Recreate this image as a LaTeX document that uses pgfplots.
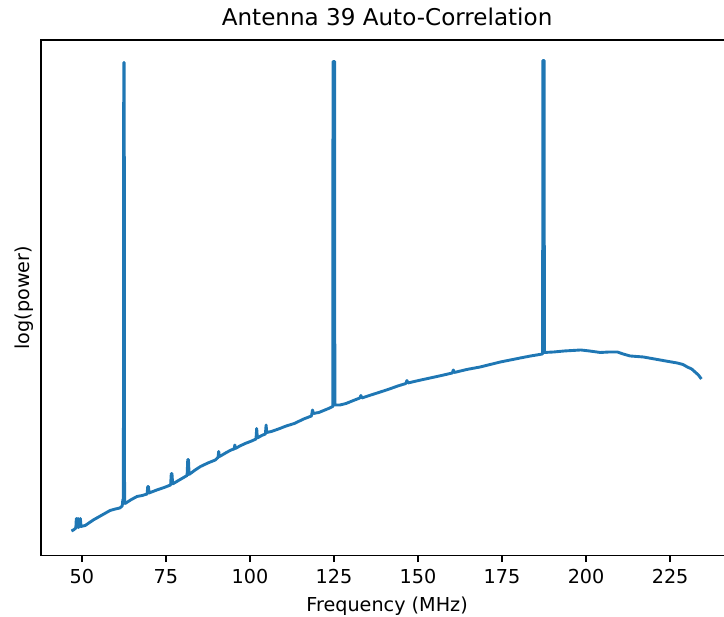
\documentclass[border=0pt]{standalone}
\usepackage{fontspec}
\setmainfont{DejaVu Sans}
\usepackage{pgfplots}
\pgfplotsset{compat=1.18}
\definecolor{mplblue}{HTML}{1F77B4}
\begin{document}
\begin{tikzpicture}
\begin{axis}[
  at={(0,0)}, anchor=south west,
  scale only axis, width=518.85pt, height=386.6pt,
  xmin=37.9, xmax=243.7, ymin=0, ymax=515.5,
  xtick={50,75,100,125,150,175,200,225}, ytick=\empty,
  tick align=outside, xtick pos=left,
  major tick length=5.06pt,
  every tick/.style={black, line width=1.16pt},
  axis line style={line width=1.16pt},
  /pgf/number format/assume math mode=true,
  ticklabel style={font=\fontsize{14.4}{17}\selectfont},
  xticklabel style={anchor=base, yshift=-16pt},
  title={Antenna 39 Auto-Correlation},
  title style={at={(axis description cs:0.5,1.0125)}, anchor=base, font=\fontsize{17.3}{20}\selectfont},
  xlabel={Frequency (MHz)},
  xlabel style={at={(axis description cs:0.5,-0.108)}, anchor=base, font=\fontsize{14.4}{17}\selectfont},
  ylabel={log(power)},
  ylabel style={at={(axis description cs:-0.0175,0.5)}, anchor=base, rotate=0, font=\fontsize{14.4}{17}\selectfont},
]
\addplot[mplblue, line width=2.17pt, line join=round] coordinates {
(46.9,24.5) (47.5,25.5) (48.2,27.5) (48.35,37) (48.55,28) (48.85,37) (49.05,28) (49.55,37) (49.75,29)
(51.0,30) (53.4,35.5) (55.5,39.5) (58.4,45) (60.0,46.5) (61.3,47.5) (62.0,49.5) (62.2,56) (62.35,55)
(62.45,493) (62.6,493) (62.7,55) (62.9,52) (64.5,55.5) (66.4,59) (68.0,60) (69.4,61.5) (69.6,69) (69.8,69) (70.0,62.5)
(72.3,65.5) (74.5,68) (76.4,70.5) (76.6,82) (76.8,82) (77.0,71.5) (79.0,75.5) (81.3,80) (81.5,96) (81.7,96) (81.9,81)
(83.5,85) (85.3,89) (87.5,92.5) (89.7,95.5) (90.5,98) (90.7,104) (90.9,99) (91.5,100) (93.0,103) (94.4,105.5)
(95.3,106.5) (95.5,110.5) (95.7,107) (97.0,109.5) (98.6,112) (100.5,114.5) (101.8,116.5) (102.0,127) (102.2,117.5)
(103.5,120) (104.6,121.5) (104.8,130.5) (105.0,123) (106.4,124) (108.5,126.5) (110.8,129.5) (113.2,132) (116.0,136.5)
(118.3,139.5) (118.6,145.5) (118.9,142) (120.5,143) (123.4,147) (124.65,149) (124.7,494) (125.2,494) (125.25,150.5)
(126.8,150.5) (128.6,152) (130.8,155) (132.7,157.5) (133.0,160) (133.3,157.5) (136.0,160.5) (138.8,163.5)
(141.5,166.5) (144.0,169.5) (146.4,172) (146.7,175) (147.0,172.5) (150.2,175) (153.6,177.5) (157.0,180)
(160.2,182.5) (160.5,185.5) (160.8,183) (164.5,186) (168.5,188.5) (171.5,191) (174.5,193.5) (177.5,195.5)
(180.4,197.5) (183.5,199.5) (187.05,201.5) (187.15,495) (187.5,495) (187.6,203) (190.4,203.5) (193.5,204.5)
(196.0,205) (198.4,205.5) (201.0,204.5) (204.2,203) (207.0,203.5) (209.3,203.5) (211.0,201.5) (213.1,199.5)
(215.0,199) (217.0,198.5) (219.5,197) (222.0,195.5) (224.5,194) (227.1,192.5) (228.8,191) (230.1,188.5)
(231.4,186.5) (232.4,183.5) (233.4,180.5) (234.3,176.5)
};
\end{axis}
\pgfresetboundingbox
\useasboundingbox (-30.9pt,-46.1pt) rectangle (512.1pt,416.6pt);
\end{tikzpicture}
\end{document}
